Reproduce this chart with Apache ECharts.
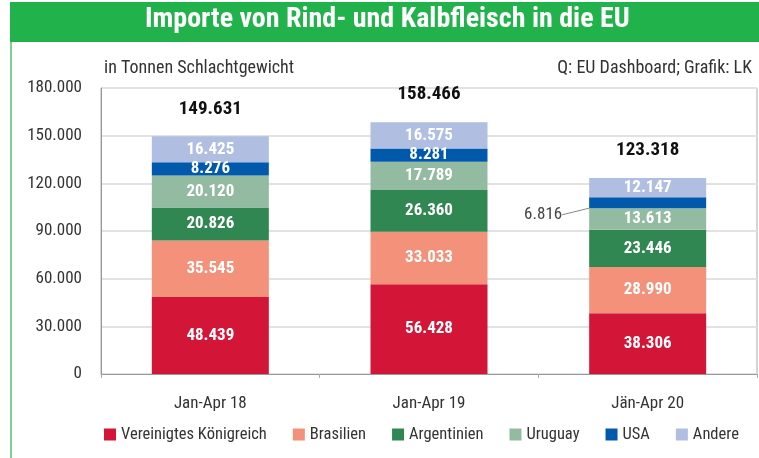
<!DOCTYPE html>
<html lang="de">
<head>
<meta charset="UTF-8">
<title>Importe von Rind- und Kalbfleisch in die EU</title>
<script src="https://cdn.jsdelivr.net/npm/echarts@6/dist/echarts.min.js"></script>
<style>
  html, body { margin: 0; padding: 0; background: #fff; }
  #main { width: 759px; height: 458px; }
</style>
</head>
<body>
<div id="main"></div>
<script>
// Daten
var categories = ['Jan-Apr 18', 'Jan-Apr 19', 'Jän-Apr 20'];
var vereinigtesKoenigreich = [48439, 56428, 38306];
var brasilien = [35545, 33033, 28990];
var argentinien = [20826, 26360, 23446];
var uruguay = [20120, 17789, 13613];
var usa = [8276, 8281, 6816];
var andere = [16425, 16575, 12147];
var summen = [149631, 158466, 123318];
var yTicks = [0, 30000, 60000, 90000, 120000, 150000, 180000];

var FONT = '"Roboto Condensed", "DejaVu Sans Condensed", sans-serif';

function fmt(v) {
    return String(v).replace(/\B(?=(\d{3})+(?!\d))/g, '.');
}

var chart = echarts.init(document.getElementById('main'));

function segment(name, data, color) {
    return {
        name: name,
        type: 'bar',
        stack: 'gesamt',
        barWidth: 117,
        data: data,
        itemStyle: { color: color },
        label: {
            show: true,
            position: 'inside',
            color: '#fff',
            fontFamily: FONT,
            fontSize: 17,
            fontWeight: 'bold',
            formatter: function (p) { return fmt(p.value); }
        }
    };
}

var series = [
    segment('Vereinigtes Königreich', vereinigtesKoenigreich, '#D31638'),
    segment('Brasilien', brasilien, '#F3917A'),
    segment('Argentinien', argentinien, '#318752'),
    segment('Uruguay', uruguay, '#93BBA1'),
    segment('USA', usa, '#0059AB'),
    segment('Andere', andere, '#AFBEE1')
];

// USA-Wert im dritten Balken steht links außerhalb mit Hinweislinie
series[4].data = usa.map(function (v, i) {
    if (i < 2) return v;
    return {
        value: v,
        label: {
            position: 'left',
            distance: 27,
            color: '#444',
            fontWeight: 'normal'
        },
        labelLine: { show: true, lineStyle: { color: '#888', width: 1 } }
    };
});
series[4].labelLayout = function (p) {
    if (p.dataIndex === 2) return { dy: 12 };
    return {};
};

// Summen über den Balken
series.push({
    name: 'Summe',
    type: 'bar',
    stack: 'gesamt',
    barWidth: 117,
    data: summen.map(function () { return 0; }),
    itemStyle: { color: 'transparent' },
    label: {
        show: true,
        position: 'top',
        distance: 18,
        color: '#111',
        fontFamily: FONT,
        fontSize: 19,
        fontWeight: 'bold',
        formatter: function (p) { return fmt(summen[p.dataIndex]); }
    }
});

chart.setOption({
    animation: false,
    textStyle: { fontFamily: FONT },
    graphic: [
        { type: 'rect', shape: { x: 10, y: 2, width: 749, height: 40 }, style: { fill: '#22B24C' } },
        { type: 'rect', shape: { x: 10, y: 42, width: 2, height: 416 }, style: { fill: '#7DD38B' } },
        {
            type: 'text', left: 145, top: 6,
            style: { text: 'Importe von Rind- und Kalbfleisch in die EU', fill: '#fff', font: 'bold 28px ' + FONT }
        },
        {
            type: 'text', left: 104, top: 59,
            style: { text: 'in Tonnen Schlachtgewicht', fill: '#333', font: '18px ' + FONT }
        },
        {
            type: 'text', right: 7, top: 59,
            style: { text: 'Q: EU Dashboard; Grafik: LK', fill: '#333', font: '18px ' + FONT }
        }
    ],
    grid: {
        left: 101, right: 2, top: 88, bottom: 84,
        show: true, borderColor: '#aaa', borderWidth: 1
    },
    legend: {
        data: ['Vereinigtes Königreich', 'Brasilien', 'Argentinien', 'Uruguay', 'USA', 'Andere'],
        left: 99, bottom: 10,
        icon: 'rect', itemWidth: 12, itemHeight: 12, itemGap: 26,
        textStyle: { fontFamily: FONT, fontSize: 16.5, color: '#333' }
    },
    xAxis: {
        type: 'category',
        data: categories,
        axisLine: { lineStyle: { color: '#999' } },
        axisTick: { show: true, length: 4, lineStyle: { color: '#aaa' } },
        axisLabel: { color: '#333', fontSize: 17, margin: 21, fontFamily: FONT }
    },
    yAxis: {
        type: 'value',
        min: yTicks[0],
        max: yTicks[yTicks.length - 1],
        interval: 30000,
        axisLine: { show: true, lineStyle: { color: '#999' } },
        splitLine: { lineStyle: { color: '#e2e2e2', width: 2 } },
        axisLabel: {
            color: '#333', fontSize: 17, margin: 19, fontFamily: FONT,
            formatter: function (v) { return fmt(v); }
        }
    },
    series: series
});
</script>
</body>
</html>
